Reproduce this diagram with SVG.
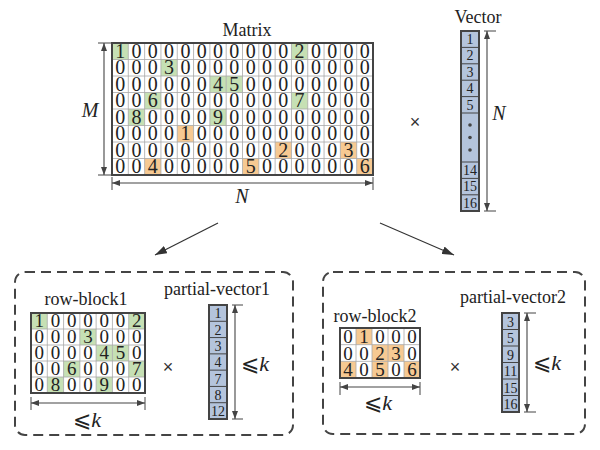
<svg xmlns="http://www.w3.org/2000/svg" width="600" height="450" viewBox="0 0 600 450">
<style>
.bg{fill:#ffffff}
.lbl{font-family:"Liberation Serif","Times New Roman",serif;font-size:18px;fill:#222;text-anchor:middle}
.dig{font-family:"Liberation Serif","Times New Roman",serif;font-size:20px;fill:#222;text-anchor:middle}
.dig2{font-family:"Liberation Serif","Times New Roman",serif;font-size:19px;fill:#222;text-anchor:middle}
.vd{font-family:"Liberation Serif","Times New Roman",serif;font-size:14px;fill:#222;text-anchor:middle}
.ital{font-family:"Liberation Serif","Times New Roman",serif;font-style:italic;font-size:20px;fill:#222;text-anchor:middle}
.le{font-family:"Liberation Serif","DejaVu Sans",serif;font-size:22px;fill:#222;text-anchor:middle}
.times{font-family:"Liberation Sans","DejaVu Sans",sans-serif;font-size:18px;fill:#333;text-anchor:middle}
.g{fill:#c6e0b4}
.o{fill:#f6c992}
.grid{fill:none;stroke:#a8a8a8;stroke-width:0.8}
.frame{fill:none;stroke:#444;stroke-width:2}
.vec{fill:#b4c4dc;stroke:#444;stroke-width:2}
.vsep{fill:none;stroke:#444;stroke-width:1}
.dim{fill:none;stroke:#444;stroke-width:1.1}
.tick{fill:none;stroke:#444;stroke-width:1}
.box{fill:none;stroke:#444;stroke-width:2;stroke-dasharray:10 6}
.conn{fill:none;stroke:#333;stroke-width:1.2}
</style>
<defs>
<marker id="dh" viewBox="0 0 8 6" refX="8" refY="3" markerWidth="8" markerHeight="6" markerUnits="userSpaceOnUse" orient="auto-start-reverse">
<path d="M0,0 L8,3 L0,6 z" fill="#444"/>
</marker>
<marker id="ah" viewBox="0 0 12 8" refX="12" refY="4" markerWidth="12" markerHeight="8" markerUnits="userSpaceOnUse" orient="auto">
<path d="M0,0 L12,4 L0,8 z" fill="#333"/>
</marker>
</defs>
<rect class="bg" x="0" y="0" width="600" height="450"/>

<g id="matrix">
<text class="lbl" x="247" y="36">Matrix</text>
<rect class="g" x="112" y="43" width="16.31" height="16.5"/>
<rect class="g" x="291.44" y="43" width="16.31" height="16.5"/>
<rect class="g" x="160.94" y="59.5" width="16.31" height="16.5"/>
<rect class="g" x="209.88" y="76" width="16.31" height="16.5"/>
<rect class="g" x="226.19" y="76" width="16.31" height="16.5"/>
<rect class="g" x="144.63" y="92.5" width="16.31" height="16.5"/>
<rect class="g" x="291.44" y="92.5" width="16.31" height="16.5"/>
<rect class="g" x="128.31" y="109" width="16.31" height="16.5"/>
<rect class="g" x="209.88" y="109" width="16.31" height="16.5"/>
<rect class="o" x="177.25" y="125.5" width="16.31" height="16.5"/>
<rect class="o" x="275.13" y="142" width="16.31" height="16.5"/>
<rect class="o" x="340.38" y="142" width="16.31" height="16.5"/>
<rect class="o" x="144.63" y="158.5" width="16.31" height="16.5"/>
<rect class="o" x="242.5" y="158.5" width="16.31" height="16.5"/>
<rect class="o" x="356.69" y="158.5" width="16.31" height="16.5"/>
<path class="grid" d="M128.31,43V175M144.63,43V175M160.94,43V175M177.25,43V175M193.56,43V175M209.88,43V175M226.19,43V175M242.5,43V175M258.81,43V175M275.13,43V175M291.44,43V175M307.75,43V175M324.06,43V175M340.38,43V175M356.69,43V175M112,59.5H373M112,76H373M112,92.5H373M112,109H373M112,125.5H373M112,142H373M112,158.5H373"/>
<rect class="frame" x="112" y="43" width="261" height="132"/>
<text class="dig" x="120.16 136.47 152.78 169.09 185.41 201.72 218.03 234.34 250.66 266.97 283.28 299.59 315.91 332.22 348.53 364.84" y="57.8">1000000000020000</text>
<text class="dig" x="120.16 136.47 152.78 169.09 185.41 201.72 218.03 234.34 250.66 266.97 283.28 299.59 315.91 332.22 348.53 364.84" y="74.3">0003000000000000</text>
<text class="dig" x="120.16 136.47 152.78 169.09 185.41 201.72 218.03 234.34 250.66 266.97 283.28 299.59 315.91 332.22 348.53 364.84" y="90.8">0000004500000000</text>
<text class="dig" x="120.16 136.47 152.78 169.09 185.41 201.72 218.03 234.34 250.66 266.97 283.28 299.59 315.91 332.22 348.53 364.84" y="107.3">0060000000070000</text>
<text class="dig" x="120.16 136.47 152.78 169.09 185.41 201.72 218.03 234.34 250.66 266.97 283.28 299.59 315.91 332.22 348.53 364.84" y="123.8">0800009000000000</text>
<text class="dig" x="120.16 136.47 152.78 169.09 185.41 201.72 218.03 234.34 250.66 266.97 283.28 299.59 315.91 332.22 348.53 364.84" y="140.3">0000100000000000</text>
<text class="dig" x="120.16 136.47 152.78 169.09 185.41 201.72 218.03 234.34 250.66 266.97 283.28 299.59 315.91 332.22 348.53 364.84" y="156.8">0000000000200030</text>
<text class="dig" x="120.16 136.47 152.78 169.09 185.41 201.72 218.03 234.34 250.66 266.97 283.28 299.59 315.91 332.22 348.53 364.84" y="173.3">0040000050000006</text>
<path class="tick" d="M98,43H112M98,175H112M112,177V190M373,177V190"/>
<line class="dim" x1="104" y1="43" x2="104" y2="175" marker-start="url(#dh)" marker-end="url(#dh)"/>
<line class="dim" x1="112" y1="183" x2="373" y2="183" marker-start="url(#dh)" marker-end="url(#dh)"/>
<text class="ital" x="90" y="117">M</text>
<text class="ital" x="242" y="203">N</text>
</g>

<g id="times-main">
<text class="times" x="415" y="128">×</text>
</g>

<g id="vector">
<text class="lbl" x="478" y="23">Vector</text>
<rect class="vec" x="461" y="31" width="18" height="180"/>
<path class="vsep" d="M461,47.4H479M461,63.8H479M461,80.2H479M461,96.6H479M461,113H479M461,162H479M461,178.4H479M461,194.8H479"/>
<text class="vd" x="470" y="44">1</text>
<text class="vd" x="470" y="60.4">2</text>
<text class="vd" x="470" y="76.8">3</text>
<text class="vd" x="470" y="93.2">4</text>
<text class="vd" x="470" y="109.6">5</text>
<circle cx="470" cy="125" r="1.8" fill="#444"/>
<circle cx="470" cy="137.5" r="1.8" fill="#444"/>
<circle cx="470" cy="150" r="1.8" fill="#444"/>
<text class="vd" x="470" y="175">14</text>
<text class="vd" x="470" y="191.4">15</text>
<text class="vd" x="470" y="207.8">16</text>
<path class="tick" d="M484,31H496M484,211H496"/>
<line class="dim" x1="487" y1="31" x2="487" y2="211" marker-start="url(#dh)" marker-end="url(#dh)"/>
<text class="ital" x="499" y="120">N</text>
</g>

<g id="connectors">
<line class="conn" x1="218" y1="223" x2="155" y2="255" marker-end="url(#ah)"/>
<line class="conn" x1="380" y1="223" x2="454" y2="255" marker-end="url(#ah)"/>
</g>

<g id="box1">
<rect class="box" x="15" y="272" width="278" height="163" rx="10"/>
</g>

<g id="row-block1">
<text class="lbl" x="86" y="305">row-block1</text>
<rect class="g" x="31" y="313" width="16.29" height="16"/>
<rect class="g" x="128.71" y="313" width="16.29" height="16"/>
<rect class="g" x="79.86" y="329" width="16.29" height="16"/>
<rect class="g" x="96.14" y="345" width="16.29" height="16"/>
<rect class="g" x="112.43" y="345" width="16.29" height="16"/>
<rect class="g" x="63.57" y="361" width="16.29" height="16"/>
<rect class="g" x="128.71" y="361" width="16.29" height="16"/>
<rect class="g" x="47.29" y="377" width="16.29" height="16"/>
<rect class="g" x="96.14" y="377" width="16.29" height="16"/>
<path class="grid" d="M47.29,313V393M63.57,313V393M79.86,313V393M96.14,313V393M112.43,313V393M128.71,313V393M31,329H145M31,345H145M31,361H145M31,377H145"/>
<rect class="frame" x="31" y="313" width="114" height="80"/>
<text class="dig2" x="39.14 55.43 71.71 88 104.29 120.57 136.86" y="327.3">1000002</text>
<text class="dig2" x="39.14 55.43 71.71 88 104.29 120.57 136.86" y="343.3">0003000</text>
<text class="dig2" x="39.14 55.43 71.71 88 104.29 120.57 136.86" y="359.3">0000450</text>
<text class="dig2" x="39.14 55.43 71.71 88 104.29 120.57 136.86" y="375.3">0060007</text>
<text class="dig2" x="39.14 55.43 71.71 88 104.29 120.57 136.86" y="391.3">0800900</text>
<path class="tick" d="M31,397V410M145,397V410"/>
<line class="dim" x1="31" y1="403" x2="145" y2="403" marker-start="url(#dh)" marker-end="url(#dh)"/>
<text class="le" x="87" y="427">⩽<tspan font-style="italic" font-family="Liberation Serif">k</tspan></text>
</g>

<g id="times1">
<text class="times" x="168" y="373">×</text>
</g>

<g id="partial-vector1">
<text class="lbl" x="217" y="295">partial-vector1</text>
<rect class="vec" x="209" y="305" width="18" height="114"/>
<path class="vsep" d="M209,321.29H227M209,337.57H227M209,353.86H227M209,370.14H227M209,386.43H227M209,402.71H227"/>
<text class="vd" x="218" y="318.3">1</text>
<text class="vd" x="218" y="334.6">2</text>
<text class="vd" x="218" y="350.9">3</text>
<text class="vd" x="218" y="367.2">4</text>
<text class="vd" x="218" y="383.5">7</text>
<text class="vd" x="218" y="399.8">8</text>
<text class="vd" x="218" y="416.1">12</text>
<path class="tick" d="M232,305H243M232,419H243"/>
<line class="dim" x1="235" y1="305" x2="235" y2="419" marker-start="url(#dh)" marker-end="url(#dh)"/>
<text class="le" x="255" y="371">⩽<tspan font-style="italic" font-family="Liberation Serif">k</tspan></text>
</g>

<g id="box2">
<rect class="box" x="323" y="272" width="262" height="162" rx="10"/>
</g>

<g id="row-block2">
<text class="lbl" x="375" y="322">row-block2</text>
<rect class="o" x="356" y="328" width="16" height="16.67"/>
<rect class="o" x="372" y="344.67" width="16" height="16.67"/>
<rect class="o" x="388" y="344.67" width="16" height="16.67"/>
<rect class="o" x="340" y="361.33" width="16" height="16.67"/>
<rect class="o" x="372" y="361.33" width="16" height="16.67"/>
<rect class="o" x="404" y="361.33" width="16" height="16.67"/>
<path class="grid" d="M356,328V378M372,328V378M388,328V378M404,328V378M340,344.67H420M340,361.33H420"/>
<rect class="frame" x="340" y="328" width="80" height="50"/>
<text class="dig2" x="348 364 380 396 412" y="342.8">01000</text>
<text class="dig2" x="348 364 380 396 412" y="359.5">00230</text>
<text class="dig2" x="348 364 380 396 412" y="376.1">40506</text>
<path class="tick" d="M340,382V395M420,382V395"/>
<line class="dim" x1="340" y1="387" x2="420" y2="387" marker-start="url(#dh)" marker-end="url(#dh)"/>
<text class="le" x="378" y="410">⩽<tspan font-style="italic" font-family="Liberation Serif">k</tspan></text>
</g>

<g id="times2">
<text class="times" x="455" y="373">×</text>
</g>

<g id="partial-vector2">
<text class="lbl" x="513" y="303">partial-vector2</text>
<rect class="vec" x="502" y="313" width="17" height="99"/>
<path class="vsep" d="M502,329.5H519M502,346H519M502,362.5H519M502,379H519M502,395.5H519"/>
<text class="vd" x="510.5" y="326.5">3</text>
<text class="vd" x="510.5" y="343">5</text>
<text class="vd" x="510.5" y="359.5">9</text>
<text class="vd" x="510.5" y="376">11</text>
<text class="vd" x="510.5" y="392.5">15</text>
<text class="vd" x="510.5" y="409">16</text>
<path class="tick" d="M524,313H536M524,412H536"/>
<line class="dim" x1="527" y1="313" x2="527" y2="412" marker-start="url(#dh)" marker-end="url(#dh)"/>
<text class="le" x="547" y="370">⩽<tspan font-style="italic" font-family="Liberation Serif">k</tspan></text>
</g>
</svg>
